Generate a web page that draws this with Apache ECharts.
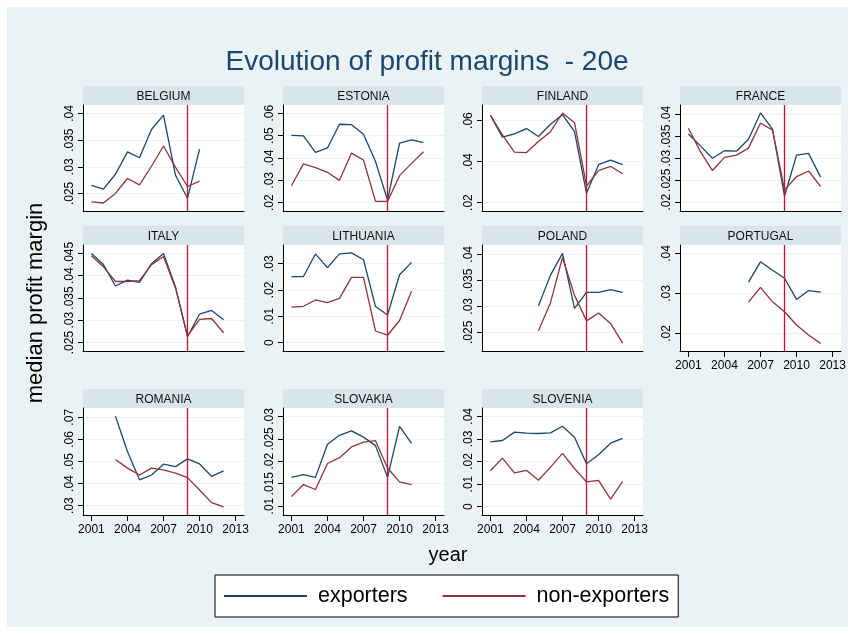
<!DOCTYPE html>
<html>
<head>
<meta charset="utf-8">
<title>Evolution of profit margins - 20e</title>
<script src="https://cdn.jsdelivr.net/npm/echarts@6/dist/echarts.min.js"></script>
<style>
  html, body { margin: 0; padding: 0; background: #fff; }
  #main { width: 855px; height: 634px; }
</style>
</head>
<body>
<div id="main"></div>
<script>
// x axis: years
const years = [2001, 2002, 2003, 2004, 2005, 2006, 2007, 2008, 2009, 2010, 2011, 2012];
const xTicks = [2001, 2004, 2007, 2010, 2013];
const crisisYear = 2009;

// median profit margin (null = no data that year)
const belgiumExp = [0.0265, 0.0258, 0.0286, 0.0328, 0.0317, 0.0370, 0.0397, 0.0284, 0.0241, 0.0333, null, null];
const belgiumNon = [0.0234, 0.0232, 0.0250, 0.0278, 0.0266, 0.0301, 0.0339, 0.0299, 0.0263, 0.0273, null, null];
const belgiumTicks = [0.025, 0.03, 0.035, 0.04];

const estoniaExp = [0.0501, 0.0499, 0.0425, 0.0445, 0.0551, 0.0549, 0.0506, 0.0384, 0.0212, 0.0466, 0.0481, 0.0469];
const estoniaNon = [0.0276, 0.0374, 0.0357, 0.0336, 0.0300, 0.0422, 0.0391, 0.0206, 0.0206, 0.0321, 0.0376, 0.0428];
const estoniaTicks = [0.02, 0.03, 0.04, 0.05, 0.06];

const finlandExp = [0.0626, 0.0519, 0.0535, 0.0561, 0.0522, 0.0582, 0.0629, 0.0546, 0.0245, 0.0385, 0.0407, 0.0385];
const finlandNon = [0.0626, 0.0530, 0.0446, 0.0444, 0.0498, 0.0546, 0.0637, 0.0590, 0.0281, 0.0356, 0.0377, 0.0341];
const finlandTicks = [0.02, 0.04, 0.06];

const franceExp = [0.0355, 0.0328, 0.0300, 0.0317, 0.0316, 0.0343, 0.0403, 0.0366, 0.0214, 0.0307, 0.0311, 0.0257];
const franceNon = [0.0368, 0.0315, 0.0272, 0.0302, 0.0307, 0.0323, 0.0380, 0.0364, 0.0228, 0.0258, 0.0271, 0.0236];
const franceTicks = [0.02, 0.025, 0.03, 0.035, 0.04];

const italyExp = [0.0450, 0.0425, 0.0377, 0.0390, 0.0385, 0.0427, 0.0450, 0.0375, 0.0263, 0.0314, 0.0322, 0.0301];
const italyNon = [0.0445, 0.0420, 0.0387, 0.0387, 0.0389, 0.0425, 0.0443, 0.0372, 0.0265, 0.0302, 0.0304, 0.0272];
const italyTicks = [0.025, 0.03, 0.035, 0.04, 0.045];

const lithuaniaExp = [0.0251, 0.0251, 0.0337, 0.0285, 0.0337, 0.0341, 0.0315, 0.0137, 0.0105, 0.0258, 0.0305, null];
const lithuaniaNon = [0.0135, 0.0138, 0.0162, 0.0152, 0.0168, 0.0248, 0.0248, 0.0044, 0.0028, 0.0084, 0.0195, null];
const lithuaniaTicks = [0, 0.01, 0.02, 0.03];

const polandExp = [null, null, null, null, 0.0301, 0.0360, 0.0402, 0.0296, 0.0327, 0.0327, 0.0332, 0.0327];
const polandNon = [null, null, null, null, 0.0253, 0.0307, 0.0394, 0.0321, 0.0272, 0.0287, 0.0267, 0.0229];
const polandTicks = [0.025, 0.03, 0.035, 0.04];

const portugalExp = [null, null, null, null, null, 0.0328, 0.0379, 0.0358, 0.0338, 0.0285, 0.0307, 0.0303];
const portugalNon = [null, null, null, null, null, 0.0278, 0.0315, 0.0279, 0.0254, 0.0221, 0.0196, 0.0175];
const portugalTicks = [0.02, 0.03, 0.04];

const romaniaExp = [null, null, 0.0705, 0.0545, 0.0417, 0.0439, 0.0488, 0.0477, 0.0512, 0.0489, 0.0433, 0.0458];
const romaniaNon = [null, null, 0.0509, 0.0470, 0.0439, 0.0470, 0.0462, 0.0447, 0.0427, 0.0371, 0.0314, 0.0295];
const romaniaTicks = [0.03, 0.04, 0.05, 0.06, 0.07];

const slovakiaExp = [0.0164, 0.0170, 0.0164, 0.0238, 0.0258, 0.0268, 0.0254, 0.0235, 0.0164, 0.0278, 0.0240, null];
const slovakiaNon = [0.0121, 0.0148, 0.0137, 0.0195, 0.0208, 0.0232, 0.0243, 0.0246, 0.0185, 0.0154, 0.0148, null];
const slovakiaTicks = [0.01, 0.015, 0.02, 0.025, 0.03];

const sloveniaExp = [0.0287, 0.0293, 0.0330, 0.0326, 0.0324, 0.0327, 0.0356, 0.0307, 0.0190, 0.0230, 0.0281, 0.0302];
const sloveniaNon = [0.0159, 0.0215, 0.0150, 0.0161, 0.0117, 0.0175, 0.0236, 0.0169, 0.0110, 0.0116, 0.0033, 0.0111];
const sloveniaTicks = [0, 0.01, 0.02, 0.03, 0.04];

// panels in reading order, y range of each plot region
const panels = [
  { name: 'BELGIUM',   exp: belgiumExp,   non: belgiumNon,   ticks: belgiumTicks,   range: [0.0217, 0.0416] },
  { name: 'ESTONIA',   exp: estoniaExp,   non: estoniaNon,   ticks: estoniaTicks,   range: [0.0163, 0.0637] },
  { name: 'FINLAND',   exp: finlandExp,   non: finlandNon,   ticks: finlandTicks,   range: [0.0159, 0.0676] },
  { name: 'FRANCE',    exp: franceExp,    non: franceNon,    ticks: franceTicks,    range: [0.0180, 0.0421] },
  { name: 'ITALY',     exp: italyExp,     non: italyNon,     ticks: italyTicks,     range: [0.0231, 0.0469] },
  { name: 'LITHUANIA', exp: lithuaniaExp, non: lithuaniaNon, ticks: lithuaniaTicks, range: [-0.0032, 0.0371] },
  { name: 'POLAND',    exp: polandExp,    non: polandNon,    ticks: polandTicks,    range: [0.0214, 0.0418] },
  { name: 'PORTUGAL',  exp: portugalExp,  non: portugalNon,  ticks: portugalTicks,  range: [0.0156, 0.0421] },
  { name: 'ROMANIA',   exp: romaniaExp,   non: romaniaNon,   ticks: romaniaTicks,   range: [0.0258, 0.0742] },
  { name: 'SLOVAKIA',  exp: slovakiaExp,  non: slovakiaNon,  ticks: slovakiaTicks,  range: [0.0080, 0.0319] },
  { name: 'SLOVENIA',  exp: sloveniaExp,  non: sloveniaNon,  ticks: sloveniaTicks,  range: [-0.0037, 0.0437] },
]

// layout
const colX = [83, 283, 482, 680]
const rowTop = [105, 245, 408]
const plotW = 161
const plotH = 106
const stripH = 19
const font = '"Liberation Sans", Arial, sans-serif'
const bgColor = '#eaf2f3'
const stripColor = '#d8e5ea'
const expColor = '#1a476f'
const nonColor = '#90353b'

// .025 instead of 0.025, like stata does
const fmt = (v) => String(+v.toFixed(4)).replace(/^0\./, '.').replace(/^-0\./, '-.')

const grids = []
const xAxes = []
const yAxes = []
const series = []
const graphics = [
  { type: 'rect', shape: { x: 7, y: 7, width: 841, height: 620 }, style: { fill: bgColor }, z: -10 },
  {
    type: 'text', x: 427, y: 62,
    style: { text: 'Evolution of profit margins  - 20e', fontSize: 28, fontFamily: font, fill: expColor, align: 'center', verticalAlign: 'middle' },
  },
  {
    type: 'text', x: 36, y: 303, rotation: Math.PI / 2,
    style: { text: 'median profit margin', fontSize: 22, fontFamily: font, fill: '#000', align: 'center', verticalAlign: 'middle' },
  },
  {
    type: 'text', x: 448, y: 555,
    style: { text: 'year', fontSize: 20, fontFamily: font, fill: '#000', align: 'center', verticalAlign: 'middle' },
  },
]

panels.forEach((p, i) => {
  const col = i % 4
  const row = Math.floor(i / 4)
  const left = colX[col]
  const top = rowTop[row]
  const h = row === 2 ? plotH + 1 : plotH
  // 底部那一排 + Portugal 才显示年份
  const showX = row === 2 || p.name === 'PORTUGAL'

  grids.push({ left: left, top: top, width: plotW, height: h, show: true, backgroundColor: '#fff', borderWidth: 0 })

  xAxes.push({
    gridIndex: i,
    type: 'value',
    min: 2000.3,
    max: 2013.7,
    axisLine: { show: true, onZero: false, lineStyle: { color: '#000', width: 1 } },
    axisTick: { show: showX, customValues: xTicks, length: 6, lineStyle: { color: '#000' } },
    axisLabel: {
      show: showX, customValues: xTicks, color: '#000', fontSize: 12, fontFamily: font, margin: 9,
      formatter: (v) => String(v),
    },
    splitLine: { show: false },
  })

  yAxes.push({
    gridIndex: i,
    type: 'value',
    min: p.range[0],
    max: p.range[1],
    axisLine: { show: true, onZero: false, lineStyle: { color: '#000', width: 1 } },
    axisTick: { show: true, customValues: p.ticks, length: 5, lineStyle: { color: '#000' } },
    axisLabel: {
      customValues: p.ticks, rotate: 90, color: '#000', fontSize: 12, fontFamily: font, margin: 7,
      formatter: fmt,
    },
    splitLine: { show: true, lineStyle: { color: bgColor, width: 1 } },
  })

  series.push({
    name: 'exporters',
    type: 'line',
    xAxisIndex: i,
    yAxisIndex: i,
    symbol: 'none',
    data: years.map((y, k) => [y, p.exp[k]]),
    lineStyle: { color: expColor, width: 1.3 },
    itemStyle: { color: expColor },
    markLine: {
      silent: true,
      symbol: 'none',
      label: { show: false },
      lineStyle: { color: '#c8102e', type: 'solid', width: 1.3 },
      data: [{ xAxis: crisisYear }],
    },
  })
  series.push({
    name: 'non-exporters',
    type: 'line',
    xAxisIndex: i,
    yAxisIndex: i,
    symbol: 'none',
    data: years.map((y, k) => [y, p.non[k]]),
    lineStyle: { color: nonColor, width: 1.3 },
    itemStyle: { color: nonColor },
  })

  // panel header strip
  graphics.push({
    type: 'rect',
    shape: { x: left, y: top - stripH, width: plotW, height: stripH },
    style: { fill: stripColor },
  })
  graphics.push({
    type: 'text', x: left + plotW / 2, y: top - stripH / 2 + 1,
    style: { text: p.name, fontSize: 12, fontFamily: font, fill: '#111', align: 'center', verticalAlign: 'middle' },
  })
})

const chart = echarts.init(document.getElementById('main'))
chart.setOption({
  animation: false,
  backgroundColor: '#fff',
  grid: grids,
  xAxis: xAxes,
  yAxis: yAxes,
  series: series,
  legend: {
    data: ['exporters', 'non-exporters'],
    left: 215,
    top: 575,
    backgroundColor: '#fff',
    borderColor: '#000',
    borderWidth: 1,
    borderRadius: 0,
    padding: [9, 9, 9, 9],
    icon: 'rect',
    itemWidth: 83,
    itemHeight: 2,
    itemGap: 35,
    formatter: (name) => ' ' + name,
    textStyle: { fontSize: 21.5, fontFamily: font, color: '#000', lineHeight: 24 },
  },
  graphic: graphics,
})
</script>
</body>
</html>
